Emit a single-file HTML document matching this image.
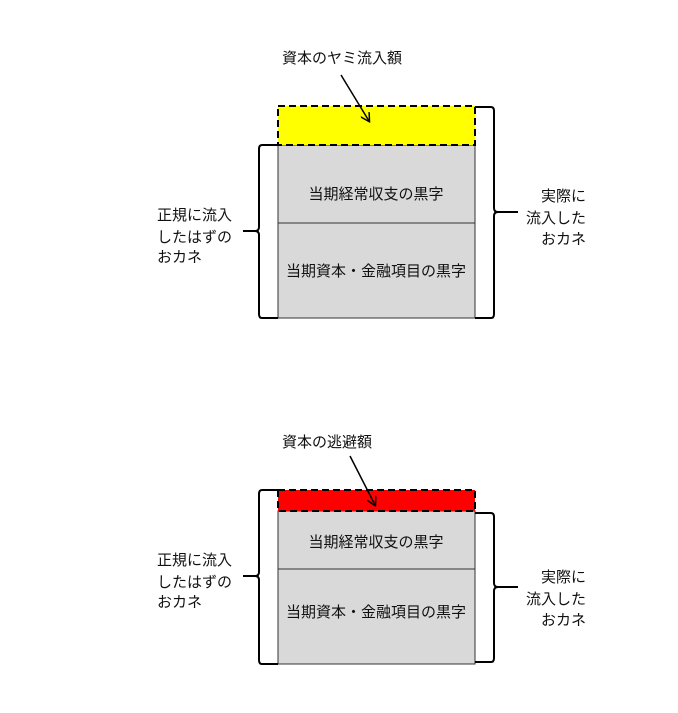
<!DOCTYPE html>
<html><head><meta charset="utf-8"><style>
html,body{margin:0;padding:0;background:#fff;}
svg{display:block}
text{font-family:"Liberation Sans","Noto Sans CJK JP",sans-serif;font-size:15px;fill:#111}
</style></head><body>
<svg width="678" height="713" viewBox="0 0 678 713" xmlns="http://www.w3.org/2000/svg">
<defs><marker id="ah" markerWidth="10" markerHeight="10" refX="8" refY="5" orient="auto" markerUnits="userSpaceOnUse"><path d="M0,0 L9,5 L0,10" fill="none" stroke="#000" stroke-width="1.5"/></marker></defs>
<!-- top diagram -->
<rect x="278" y="145" width="197" height="173" fill="#d9d9d9" stroke="#333" stroke-width="1"/>
<line x1="278" y1="223" x2="475" y2="223" stroke="#333"/>
<rect x="278" y="106" width="197" height="39" fill="#ffff00" stroke="#000" stroke-width="2" stroke-dasharray="7,4"/>
<path d="M278,145 H262 Q259,145 259,149 V227 Q259,231 255,231 H243 M255,231 Q259,231 259,235 V314 Q259,318 262,318 H278" fill="none" stroke="#000" stroke-width="2"/>
<path d="M475,107 H491 Q494,107 494,111 V208 Q494,212 498,212 H518 M498,212 Q494,212 494,216 V314 Q494,318 491,318 H475" fill="none" stroke="#000" stroke-width="2"/>
<text x="282" y="63">資本のヤミ流入額</text>
<line x1="341" y1="75" x2="369" y2="121" stroke="#000" stroke-width="1.5" marker-end="url(#ah)"/>
<text x="376" y="199" text-anchor="middle">当期経常収支の黒字</text>
<text x="376" y="276" text-anchor="middle">当期資本・金融項目の黒字</text>
<text x="157" y="220">正規に流入</text>
<text x="157" y="242">したはずの</text>
<text x="157" y="262">おカネ</text>
<text x="586" y="201" text-anchor="end">実際に</text>
<text x="586" y="223" text-anchor="end">流入した</text>
<text x="586" y="244" text-anchor="end">おカネ</text>
<!-- bottom diagram -->
<rect x="278" y="511" width="197" height="153" fill="#d9d9d9" stroke="#333" stroke-width="1"/>
<line x1="278" y1="569" x2="475" y2="569" stroke="#333"/>
<rect x="278" y="490" width="197" height="21" fill="#ff0000" stroke="#000" stroke-width="2" stroke-dasharray="7,4"/>
<path d="M278,490 H262 Q259,490 259,494 V572 Q259,576 255,576 H243 M255,576 Q259,576 259,580 V660 Q259,664 262,664 H278" fill="none" stroke="#000" stroke-width="2"/>
<path d="M475,513 H491 Q494,513 494,517 V583 Q494,587 498,587 H518 M498,587 Q494,587 494,591 V658 Q494,662 491,662 H475" fill="none" stroke="#000" stroke-width="2"/>
<text x="282" y="447">資本の逃避額</text>
<line x1="350" y1="456" x2="375" y2="505" stroke="#000" stroke-width="1.5" marker-end="url(#ah)"/>
<text x="376" y="547" text-anchor="middle">当期経常収支の黒字</text>
<text x="376" y="617" text-anchor="middle">当期資本・金融項目の黒字</text>
<text x="157" y="565">正規に流入</text>
<text x="157" y="587">したはずの</text>
<text x="157" y="607">おカネ</text>
<text x="586" y="582" text-anchor="end">実際に</text>
<text x="586" y="604" text-anchor="end">流入した</text>
<text x="586" y="625" text-anchor="end">おカネ</text>
</svg>
</body></html>
